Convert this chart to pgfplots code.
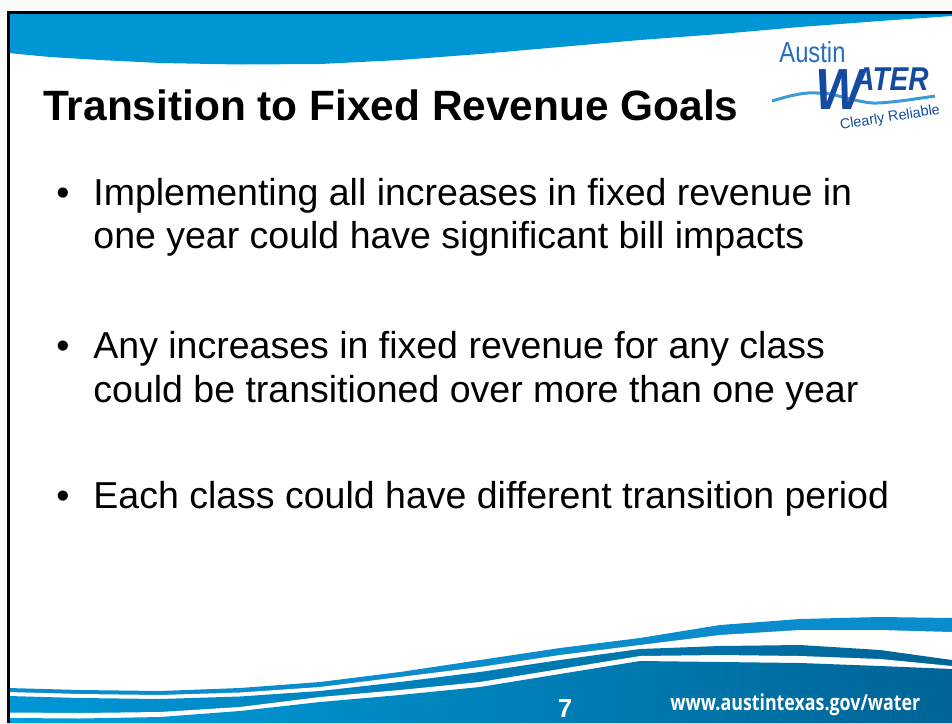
\documentclass[border=0pt]{standalone}
\usepackage{fontspec}
\setmainfont{Liberation Sans}
\newfontfamily\urlfont{Open Sans}
\usepackage{graphicx}
\usepackage{pgfplots}
\pgfplotsset{compat=1.18}
\definecolor{topblue}{RGB}{0,150,214}
\definecolor{stripeblue}{RGB}{10,140,205}
\definecolor{lightblue}{RGB}{0,160,222}
\definecolor{darkblue}{RGB}{0,100,150}
\definecolor{austinblue}{RGB}{35,110,190}
\definecolor{waterblue}{RGB}{20,75,160}
\definecolor{swoosh}{RGB}{60,155,215}
\definecolor{margin}{RGB}{250,250,250}
\begin{document}
\begin{tikzpicture}
\begin{axis}[scale only axis, width=476pt, height=361.5pt,
  xmin=0, xmax=952, ymin=0, ymax=723, y dir=reverse,
  axis lines=none, clip=true, no markers]
% outer margins (slide edge)
\addplot[draw=none, fill=margin] coordinates {(0,0)(952,0)(952,11)(7,11)(7,723)(0,723)};
% top band
\addplot[draw=none, fill=topblue] coordinates {(8,13)(952,13)(952,16)(880,21)(800,27)(720,34)(640,40)(560,47)(480,54)(400,60)(320,64)(240,64.5)(160,63)(100,60)(50,57)(8,53)};
% bottom waves
\addplot[draw=none, fill=stripeblue] coordinates {(8,688)(80,690)(160,691)(240,688)(320,682)(400,672)(480,660)(560,648)(640,638)(720,625)(800,619)(880,617)(952,618)(952,723)(8,723)};
\addplot[draw=none, fill=white] coordinates {(8,692)(80,694)(160,695)(240,692.5)(320,687)(400,677)(480,667)(560,655)(640,645)(720,635)(800,630)(880,630)(952,632)(952,723)(8,723)};
\addplot[draw=none, left color=topblue, right color=darkblue] coordinates {(8,696)(80,698)(160,699)(240,696.5)(320,691)(400,682)(480,672)(560,660)(640,649)(720,646)(800,645)(880,650)(952,660)(952,723)(8,723)};
\addplot[draw=none, fill=white] coordinates {(8,712.5)(80,713)(160,712)(240,707)(320,697)(400,690)(480,682)(560,669)(640,656)(720,655)(800,656)(880,659)(952,666)(952,723)(8,723)};
\addplot[draw=none, left color=lightblue, right color=darkblue] coordinates {(8,718)(80,718.5)(160,717)(240,711)(320,702)(400,695)(480,687)(560,674)(640,661)(720,662)(800,663)(880,666)(952,669)(952,723)(8,723)};
% frame
\addplot[black, line width=1.5pt] coordinates {(8,723)(8,12)(952,12)};
% logo swoosh
\addplot[swoosh, line width=1.5pt, smooth] coordinates {(772,101)(790,96)(808,93)(830,94)(850,99)(873,103)(900,101)(935,96)};
% title
\node[anchor=base west, inner sep=0pt, font=\fontsize{21.2}{26}\selectfont\bfseries] at (axis cs:43,120) {Transition to Fixed Revenue Goals};
% logo text
\node[anchor=base west, text=austinblue, font=\fontsize{14.5}{16}\selectfont, inner sep=0pt] at (axis cs:779,62) {\scalebox{0.82}[1]{Austin}};
\node[anchor=base west, text=waterblue, font=\fontsize{29}{30}\selectfont\bfseries\itshape, inner sep=0pt] at (axis cs:815,109) {\scalebox{0.88}[1]{W}};
\node[anchor=base west, text=waterblue, font=\fontsize{16.5}{17}\selectfont\bfseries\itshape, inner sep=0pt] at (axis cs:854,90) {\scalebox{0.85}[1]{ATER}};
\node[anchor=center, text=waterblue, font=\fontsize{7.2}{8}\selectfont, rotate=9, inner sep=0pt] at (axis cs:890,118) {Clearly Reliable};
% bullets
\node[anchor=base, font=\fontsize{18.75}{22}\selectfont] at (axis cs:63,205) {\textbullet};
\node[anchor=base, font=\fontsize{18.75}{22}\selectfont] at (axis cs:63,358) {\textbullet};
\node[anchor=base, font=\fontsize{18.75}{22}\selectfont] at (axis cs:63,508) {\textbullet};
\node[anchor=base west, inner sep=0pt, font=\fontsize{18.75}{22}\selectfont] at (axis cs:93,205) {Implementing all increases in fixed revenue in};
\node[anchor=base west, inner sep=0pt, font=\fontsize{18.75}{22}\selectfont] at (axis cs:93,248) {one year could have significant bill impacts};
\node[anchor=base west, inner sep=0pt, font=\fontsize{18.75}{22}\selectfont] at (axis cs:93,358) {Any increases in fixed revenue for any class};
\node[anchor=base west, inner sep=0pt, font=\fontsize{18.75}{22}\selectfont] at (axis cs:93,402) {could be transitioned over more than one year};
\node[anchor=base west, inner sep=0pt, font=\fontsize{18.75}{22}\selectfont] at (axis cs:93,508) {Each class could have different transition period};
% footer
\node[anchor=base, text=white, font=\fontsize{13}{15}\selectfont\bfseries] at (axis cs:565,717) {7};
\node[anchor=base west, inner sep=0pt, text=white, font=\fontsize{11}{14}\selectfont\urlfont\bfseries] at (axis cs:670,710) {\scalebox{0.81}[1]{www.austintexas.gov/water}};
\end{axis}
\end{tikzpicture}
\end{document}
